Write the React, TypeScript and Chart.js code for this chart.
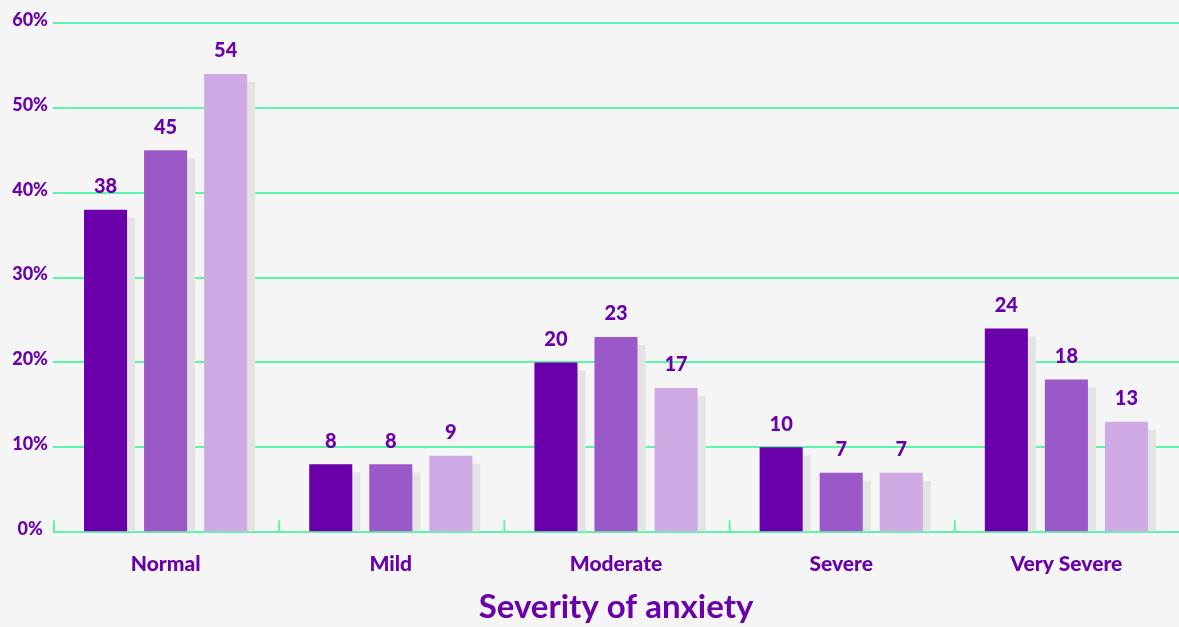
import React, { useEffect, useRef } from "react";
import { Chart, registerables } from "chart.js";

Chart.register(...registerables);

const categories = ["Normal", "Mild", "Moderate", "Severe", "Very Severe"];
const seriesA = [38, 8, 20, 10, 24];
const seriesB = [45, 8, 23, 7, 18];
const seriesC = [54, 9, 17, 7, 13];
const seriesNames = ["Group 1", "Group 2", "Group 3"];
const seriesColors = ["#6a00aa", "#9b58c9", "#d0aae4"];
const yTicks = [0, 10, 20, 30, 40, 50, 60];

const TEXT = "#6a00aa";
const GRID = "#5ef5a8";
const SHADOW = "#e4e4e4";
const FONT = "Lato, 'Open Sans', sans-serif";

const shadowPlugin = {
  id: "barShadow",
  beforeDatasetsDraw(chart: any) {
    const ctx = chart.ctx;
    ctx.save();
    ctx.fillStyle = SHADOW;
    chart.data.datasets.forEach((_: any, di: number) => {
      const meta = chart.getDatasetMeta(di);
      meta.data.forEach((bar: any) => {
        const w = bar.width;
        const x0 = bar.x - w / 2 + 8;
        const top = bar.y + 8;
        ctx.fillRect(x0, top, w, bar.base - top);
      });
    });
    ctx.restore();
  },
};

const labelPlugin = {
  id: "barLabels",
  afterDatasetsDraw(chart: any) {
    const ctx = chart.ctx;
    ctx.save();
    ctx.fillStyle = TEXT;
    ctx.font = `900 20px ${FONT}`;
    ctx.textAlign = "center";
    ctx.textBaseline = "bottom";
    chart.data.datasets.forEach((ds: any, di: number) => {
      const meta = chart.getDatasetMeta(di);
      meta.data.forEach((bar: any, i: number) => {
        ctx.fillText(String(ds.data[i]), bar.x, bar.y - 13);
      });
    });
    ctx.restore();
  },
};

const tickPlugin = {
  id: "catTicks",
  afterDraw(chart: any) {
    const xs = chart.scales.x;
    const ys = chart.scales.y;
    const ctx = chart.ctx;
    const n = categories.length;
    const step = (xs.right - xs.left) / n;
    const base = ys.getPixelForValue(0);
    ctx.save();
    ctx.strokeStyle = GRID;
    ctx.lineWidth = 2;
    for (let i = 0; i < n; i++) {
      const x = xs.left + i * step + 1;
      ctx.beginPath();
      ctx.moveTo(x, base);
      ctx.lineTo(x, base - 12);
      ctx.stroke();
    }
    ctx.restore();
  },
};

export default function App() {
  const ref = useRef<HTMLCanvasElement>(null);
  useEffect(() => {
    document.body.style.margin = "0";
    document.body.style.background = "#f5f5f5";
    const chart = new Chart(ref.current!, {
      type: "bar",
      data: {
        labels: categories,
        datasets: [seriesA, seriesB, seriesC].map((d, i) => ({
          label: seriesNames[i],
          data: d,
          backgroundColor: seriesColors[i],
          categoryPercentage: 0.8,
          barPercentage: 0.717,
        })),
      },
      options: {
        animation: false,
        responsive: true,
        maintainAspectRatio: false,
        layout: { padding: { top: 23, right: 0, left: 0, bottom: 0 } },
        plugins: {
          legend: { display: false },
          tooltip: { enabled: false },
        },
        scales: {
          x: {
            grid: { display: false },
            border: { display: false },
            ticks: {
              color: TEXT,
              font: { family: FONT, size: 21, weight: "900" },
              padding: 11,
            },
            title: {
              display: true,
              text: "Severity of anxiety",
              color: TEXT,
              font: { family: FONT, size: 33, weight: "bold" },
              padding: { top: 0, bottom: 0 },
            },
          },
          y: {
            min: 0,
            max: 60,
            afterFit(scale: any) {
              scale.width = 53;
            },
            afterBuildTicks(scale: any) {
              scale.ticks = yTicks.map((v) => ({ value: v }));
            },
            grid: { color: GRID, lineWidth: 2, drawTicks: false },
            border: { display: false },
            ticks: {
              color: TEXT,
              font: { family: FONT, size: 18, weight: "900" },
              padding: 5,
              crossAlign: "center",
              labelOffset: -3,
              callback: (v: any) => `${v}%`,
            },
          },
        },
      },
      plugins: [shadowPlugin, labelPlugin, tickPlugin],
    } as any);
    return () => chart.destroy();
  }, []);
  return (
    <div style={{ width: 1179, height: 627, background: "#f5f5f5" }}>
      <canvas ref={ref} />
    </div>
  );
}
